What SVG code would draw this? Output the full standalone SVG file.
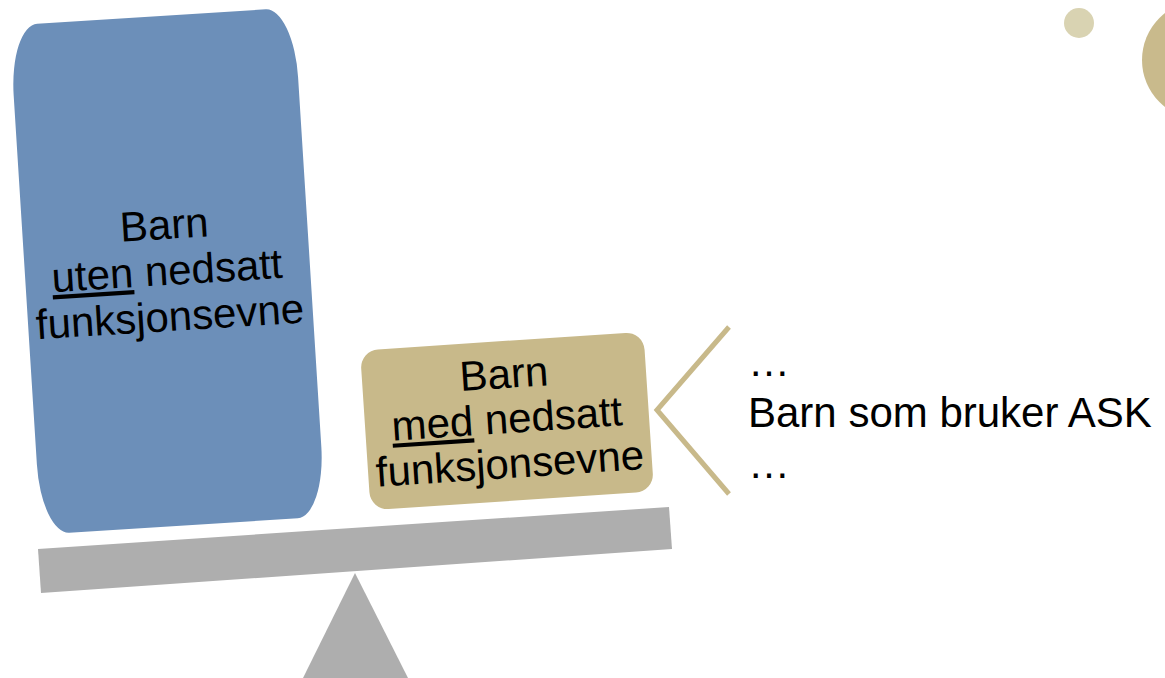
<svg xmlns="http://www.w3.org/2000/svg" width="1165" height="678" viewBox="0 0 1165 678">
<style>
  .lbl{font-family:"Liberation Sans",Arial,sans-serif;font-size:42px;fill:#000;}
  .mid{text-anchor:middle;}
  .ul{text-decoration:underline;}
  .gray{fill:#AEAEAE;}
</style>
<rect width="1165" height="678" fill="#ffffff"/>
<g id="decor">
  <circle cx="1079" cy="23" r="15" fill="#D9D3B2"/>
  <circle cx="1201.5" cy="60" r="59.5" fill="#C9BA8C"/>
</g>
<g id="scale">
  <polygon class="gray" points="38,549 669,507 672,549 41,593"/>
  <polygon class="gray" points="355,573 408,678 303,678"/>
</g>
<g id="node-uten" transform="translate(167,271) rotate(-3.6)">
  <rect x="-142" y="-255" width="285" height="510" rx="28" ry="70" fill="#6C8FB9"/>
  <text class="lbl mid" x="0" y="-32">Barn</text>
  <text class="lbl mid" x="0" y="14"><tspan class="ul">uten</tspan> nedsatt</text>
  <text class="lbl mid" x="0" y="60">funksjonsevne</text>
</g>
<g id="node-med" transform="translate(507,421) rotate(-3.8)">
  <rect x="-142" y="-80" width="284" height="160" rx="18" ry="18" fill="#C8B98A"/>
  <text class="lbl mid" x="0" y="-33">Barn</text>
  <text class="lbl mid" x="0" y="12"><tspan class="ul">med</tspan> nedsatt</text>
  <text class="lbl mid" x="0" y="57">funksjonsevne</text>
</g>
<g id="connectors">
  <polyline points="729,327 657,410 729,494" fill="none" stroke="#C8B98A" stroke-width="5"/>
</g>
<g id="node-ask">
  <text class="lbl" x="748" y="376">…</text>
  <text class="lbl" x="748" y="427">Barn som bruker ASK</text>
  <text class="lbl" x="748" y="478">…</text>
</g>
</svg>
